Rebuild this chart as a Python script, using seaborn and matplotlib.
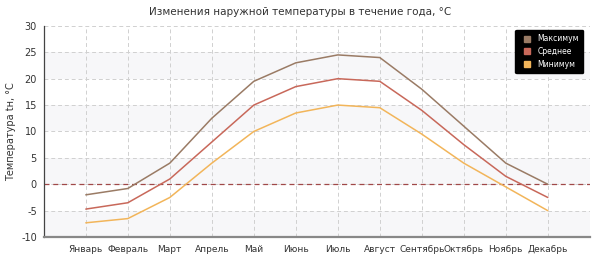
import matplotlib
matplotlib.use("Agg")
import matplotlib.pyplot as plt
import seaborn as sns
import pandas as pd

months = ["Январь", "Февраль", "Март", "Апрель", "Май", "Июнь", "Июль",
          "Август", "Сентябрь", "Октябрь", "Ноябрь", "Декабрь"]
t_max = [-2.0, -0.8, 4.0, 12.5, 19.5, 23.0, 24.5, 24.0, 18.0, 11.0, 4.0, 0.0]
t_avg = [-4.7, -3.5, 1.0, 8.0, 15.0, 18.5, 20.0, 19.5, 14.0, 7.5, 1.5, -2.5]
t_min = [-7.3, -6.5, -2.5, 4.0, 10.0, 13.5, 15.0, 14.5, 9.5, 4.0, -0.5, -5.0]
series_names = ["Максимум", "Среднее", "Минимум"]
colors = ["#9a7b65", "#c8685a", "#f2b55a"]
y_ticks = [-10, -5, 0, 5, 10, 15, 20, 25, 30]

rows = []
for name, vals in zip(series_names, [t_max, t_avg, t_min]):
    for i, v in enumerate(vals):
        rows.append({"x": i + 1, "t": v, "s": name})
df = pd.DataFrame(rows)

sns.set_style("white")
plt.rcParams['font.family'] = ['Verdana', 'DejaVu Sans']
fig = plt.figure(figsize=(6.0, 2.64), dpi=100)
ax = fig.add_axes([0.073, 0.102, 0.91, 0.8])

# alternating bands
for lo in range(-10, 30, 10):
    ax.axhspan(lo + 10 - 5 if False else lo, lo + 5, color="#f7f7f9", zorder=0, lw=0)

sns.lineplot(data=df, x="x", y="t", hue="s", palette=colors, ax=ax,
             linewidth=1.1, legend=False, zorder=3)

ax.axhline(0, color="#a04848", lw=0.9, ls=(0, (4, 3)), zorder=2)

ax.set_xlim(0, 13)
ax.set_ylim(-10, 30)
ax.set_xticks(range(0, 14))
ax.set_xticklabels([""] + months + [""], fontsize=6.5, color="#333333")
ax.set_yticks(y_ticks)
ax.set_yticklabels([str(v) for v in y_ticks], fontsize=7, color="#333333")
ax.grid(True, color="#d0d0d0", ls=(0, (4, 3)), lw=0.7)
ax.set_axisbelow(True)
ax.tick_params(axis="both", length=3, width=0.8, color="#555555", pad=2, direction="out")
ax.tick_params(axis="x", length=4, color="#888888")
for s in ["top", "right"]:
    ax.spines[s].set_visible(False)
ax.spines["left"].set_color("#444444")
ax.spines["left"].set_linewidth(0.9)
ax.spines["bottom"].set_color("#888888")
ax.spines["bottom"].set_linewidth(1.6)

ax.set_xlabel("")
ax.set_ylabel("Температура tн, °C", fontsize=7, color="#333333", labelpad=4)
fig.text(0.5, 0.955, "Изменения наружной температуры в течение года, °C",
         ha="center", va="center", fontsize=7.5, color="#333333")

from matplotlib.lines import Line2D
handles = [Line2D([], [], marker="s", ls="", color=c, markersize=4) for c in colors]
leg = ax.legend(handles, series_names, loc="upper right", bbox_to_anchor=(0.995, 1.0),
                fontsize=5.5, frameon=True, facecolor="black", edgecolor="black",
                labelcolor="white", handletextpad=0.3, borderpad=0.6, labelspacing=0.5,
                fancybox=True, framealpha=1)

fig.savefig("out.png", dpi=100)
